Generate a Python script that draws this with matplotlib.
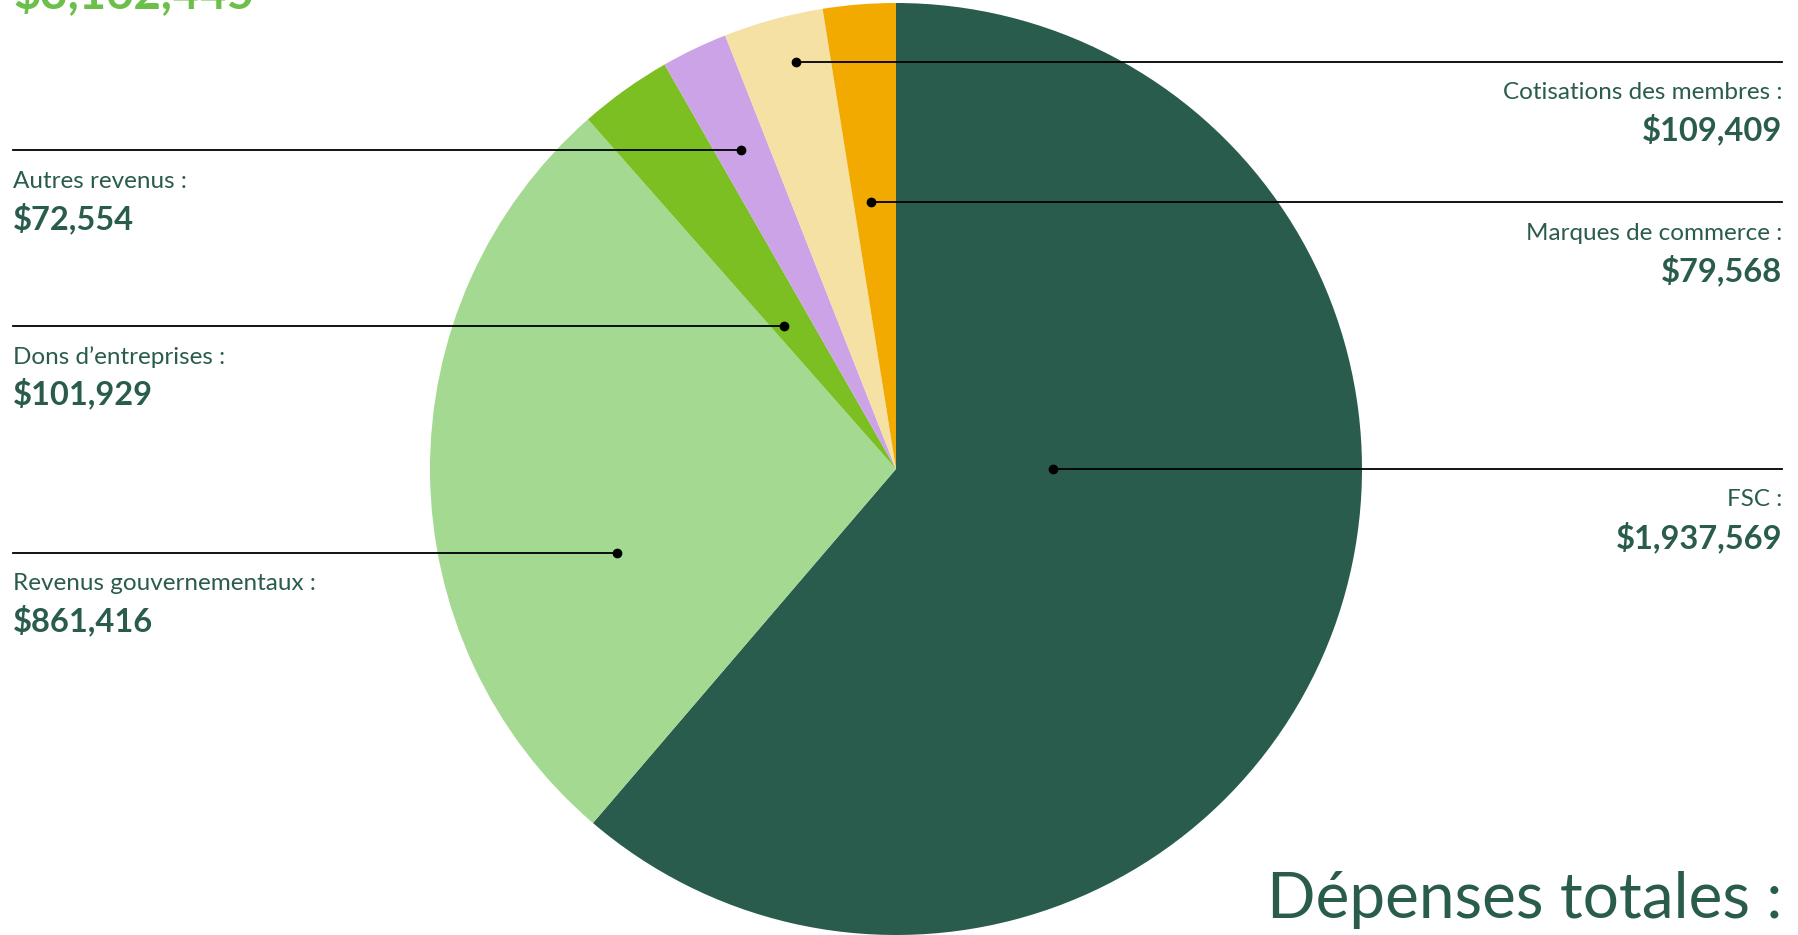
import numpy as np
import matplotlib
matplotlib.use("Agg")
import matplotlib.pyplot as plt

# data
labels = ["FSC :", "Revenus gouvernementaux :", "Dons d\u2019entreprises :",
          "Autres revenus :", "Cotisations des membres :", "Marques de commerce :"]
values = [1937569, 861416, 101929, 72554, 109409, 79568]
total_label = "$3,162,445"
title = "Dépenses totales :"

colors = ["#2a5c4e", "#a3d990", "#7bbf23", "#cba3e6", "#f5e1a4", "#f2a900"]
text_color = "#2a5c4e"

# leader layout: dot position inside its wedge (fraction of sweep, fraction of radius)
side = ["right", "left", "left", "left", "right", "right"]
dot_ang = [0.408, 0.334, 0.30, 0.47, 0.62, 0.42]
dot_rad = [0.337, 0.625, 0.39, 0.76, 0.90, 0.575]

W, H = 1799, 935
cx, cy, R = 896, H - 469, 466

plt.rcParams["font.family"] = ["Lato", "DejaVu Sans"]

fig = plt.figure(figsize=(W / 100, H / 100), dpi=100)
ax = fig.add_axes([0, 0, 1, 1])

wedges, _ = ax.pie(values, colors=colors, startangle=90, counterclock=False,
                   center=(cx, cy), radius=R, frame=True,
                   wedgeprops=dict(linewidth=0))
ax.set_xlim(0, W)
ax.set_ylim(0, H)
ax.set_aspect("equal")
ax.axis("off")

for w, lab, val, sd, fa, fr in zip(wedges, labels, values, side, dot_ang, dot_rad):
    ang = np.deg2rad(w.theta2 - fa * (w.theta2 - w.theta1))
    x = cx + fr * R * np.cos(ang)
    y = cy + fr * R * np.sin(ang)
    if sd == "right":
        xe, ha = 1782, "right"
    else:
        xe, ha = 13, "left"
    ax.plot([x, xe], [y, y], color="black", lw=1.3, zorder=3)
    ax.plot([x], [y], "o", color="black", ms=6, zorder=4)
    ax.text(xe, y - 31, lab, ha=ha, va="center", fontsize=17.5, color=text_color)
    ax.text(xe, y - 68, f"${val:,}", ha=ha, va="center", fontsize=23.5,
            fontweight="bold", color=text_color)

ax.text(1782, 17, title, ha="right", va="baseline", fontsize=46,
        color=text_color)
ax.text(13, H - 8, total_label, ha="left", va="baseline", fontsize=34,
        color="#6bbf4a", fontweight="bold")

fig.savefig("out.png", dpi=100)
